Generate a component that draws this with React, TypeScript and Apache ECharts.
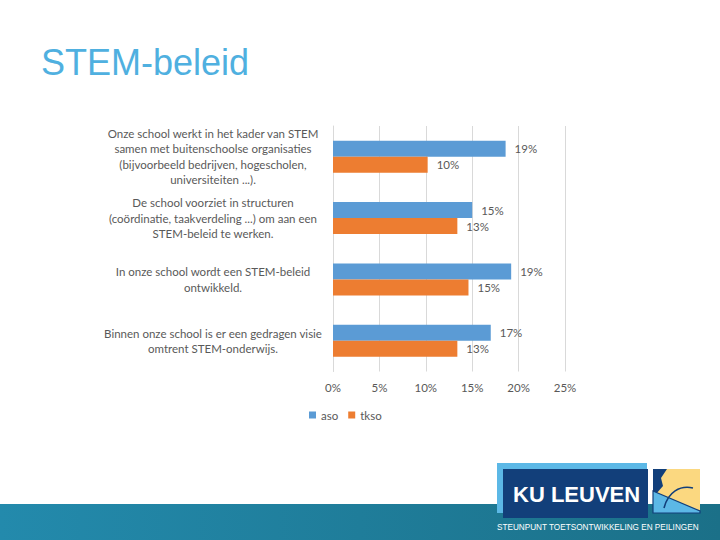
import React, { useEffect, useRef } from "react";
import * as echarts from "echarts";

const categories = [
  "Onze school werkt in het kader van STEM\nsamen met buitenschoolse organisaties\n(bijvoorbeeld bedrijven, hogescholen,\nuniversiteiten ...).",
  "De school voorziet in structuren\n(coördinatie, taakverdeling ...) om aan een\nSTEM-beleid te werken.",
  "In onze school wordt een STEM-beleid\nontwikkeld.",
  "Binnen onze school is er een gedragen visie\nomtrent STEM-onderwijs.",
];
const seriesNames = ["aso", "tkso"];
const asoValues = [18.6, 15.0, 19.2, 17.0];
const tksoValues = [10.2, 13.4, 14.6, 13.4];
const tickValues = [0, 5, 10, 15, 20, 25];

const FONT = "Lato";
const GREY = "#595959";

export default function App() {
  const ref = useRef<HTMLDivElement>(null);
  useEffect(() => {
    if (!ref.current) return;
    const chart = echarts.init(ref.current, null, { renderer: "svg" });
    const labelOpt = {
      show: true,
      position: "right",
      distance: 9,
      color: GREY,
      fontFamily: FONT,
      fontSize: 11.5,
      formatter: (p: any) => `${Math.round(p.value)}%`,
    };
    chart.setOption({
      animation: false,
      backgroundColor: "#ffffff",
      title: {
        text: "STEM-beleid",
        left: 41,
        top: 44,
        padding: 0,
        textStyle: {
          color: "#4fb0e0",
          fontFamily: "Liberation Sans",
          fontSize: 36,
          fontWeight: "normal",
        },
      },
      legend: {
        data: seriesNames,
        left: 304,
        top: 404,
        itemWidth: 7,
        itemHeight: 7,
        itemGap: 10,
        icon: "rect",
        textStyle: { color: GREY, fontFamily: FONT, fontSize: 11.5 },
      },
      grid: { left: 333, right: 155, top: 126, bottom: 168.5, containLabel: false },
      xAxis: {
        type: "value",
        min: tickValues[0],
        max: tickValues[tickValues.length - 1],
        interval: 5,
        axisLine: { show: false },
        axisTick: { show: false },
        splitLine: { lineStyle: { color: "#d9d9d9", width: 1 } },
        axisLabel: {
          color: GREY,
          fontFamily: FONT,
          fontSize: 11.5,
          margin: 10,
          formatter: (v: number) => `${v}%`,
        },
      },
      yAxis: {
        type: "category",
        inverse: true,
        data: categories,
        axisLine: { show: true, lineStyle: { color: "#d9d9d9" } },
        axisTick: { show: false },
        axisLabel: {
          margin: 11,
          formatter: (v: string) =>
            v
              .split("\n")
              .map((l) => `{a|${l}}`)
              .join("\n"),
          rich: {
            a: {
              width: 218,
              align: "center",
              lineHeight: 15.5,
              fontSize: 11.5,
              color: GREY,
              fontFamily: FONT,
            },
          },
        },
      },
      series: [
        {
          name: seriesNames[0],
          type: "bar",
          data: asoValues,
          barWidth: 16,
          barGap: "0%",
          itemStyle: { color: "#5b9bd5" },
          label: labelOpt,
        },
        {
          name: seriesNames[1],
          type: "bar",
          data: tksoValues,
          barWidth: 16,
          barGap: "0%",
          itemStyle: { color: "#ed7d31" },
          label: labelOpt,
        },
      ],
      graphic: [
        {
          type: "rect",
          shape: { x: 0, y: 504, width: 720, height: 36 },
          style: {
            fill: new echarts.graphic.LinearGradient(0, 0, 1, 0, [
              { offset: 0, color: "#238aac" },
              { offset: 1, color: "#1b7088" },
            ]),
          },
          silent: true,
        },
        {
          type: "rect",
          shape: { x: 497, y: 463, width: 150, height: 50 },
          style: { fill: "#5cb8e6" },
          silent: true,
        },
        {
          type: "rect",
          shape: { x: 503, y: 469, width: 145, height: 49 },
          style: { fill: "#123f7a" },
          silent: true,
        },
        {
          type: "text",
          x: 513,
          y: 494,
          style: {
            text: "KU LEUVEN",
            fill: "#ffffff",
            fontFamily: "Liberation Sans",
            fontWeight: "bold",
            fontSize: 22,
            verticalAlign: "middle",
          },
          silent: true,
        },
        {
          type: "rect",
          shape: { x: 653, y: 469, width: 47, height: 44 },
          style: { fill: "#fbd880" },
          silent: true,
        },
        {
          type: "polygon",
          shape: {
            points: [
              [653, 469],
              [667, 469],
              [661, 478],
              [663, 486],
              [656, 494],
              [653, 494],
            ],
          },
          style: { fill: "#123f7a" },
          silent: true,
        },
        {
          type: "polygon",
          shape: {
            points: [
              [653, 491],
              [700, 511],
              [700, 513],
              [653, 513],
            ],
          },
          style: { fill: "#5cb8e6", stroke: "#123f7a", lineWidth: 1.2 },
          silent: true,
        },
        {
          type: "bezierCurve",
          shape: { x1: 664, y1: 508, cpx1: 668, cpy1: 492, cpx2: 680, cpy2: 485, x2: 693, y2: 488 },
          style: { stroke: "#123f7a", lineWidth: 1.6, fill: "none" },
          silent: true,
        },
        {
          type: "text",
          x: 497,
          y: 527,
          style: {
            text: "STEUNPUNT TOETSONTWIKKELING EN PEILINGEN",
            fill: "#ffffff",
            fontFamily: "Liberation Sans",
            fontSize: 8.2,
            verticalAlign: "middle",
          },
          silent: true,
        },
      ],
    });
    return () => chart.dispose();
  }, []);
  return (
    <div
      ref={ref}
      style={{ position: "fixed", left: 0, top: 0, width: 720, height: 540 }}
    />
  );
}
